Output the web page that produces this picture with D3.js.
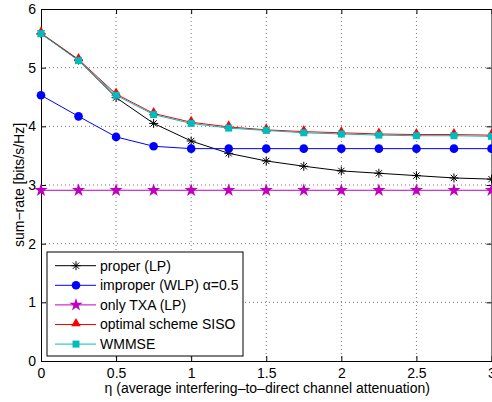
<!DOCTYPE html>
<html>
<head>
<meta charset="utf-8">
<script src="https://cdn.jsdelivr.net/npm/d3@7"></script>
<style>
  body { margin: 0; background: #fff; }
  text { font-family: "Liberation Sans", Arial, sans-serif; }
</style>
</head>
<body>
<div id="chart"></div>
<script>
// Data
const eta = [0, 0.25, 0.5, 0.75, 1, 1.25, 1.5, 1.75, 2, 2.25, 2.5, 2.75, 3];
const properLP = [5.58, 5.13, 4.49, 4.05, 3.75, 3.54, 3.41, 3.32, 3.24, 3.20, 3.16, 3.12, 3.10];
const improperWLP = [4.53, 4.17, 3.82, 3.66, 3.62, 3.62, 3.62, 3.62, 3.62, 3.62, 3.62, 3.62, 3.62];
const onlyTXA = [2.91, 2.91, 2.91, 2.91, 2.91, 2.91, 2.91, 2.91, 2.91, 2.91, 2.91, 2.91, 2.91];
const optimalSISO = [5.59, 5.14, 4.55, 4.22, 4.07, 3.99, 3.94, 3.91, 3.89, 3.87, 3.86, 3.86, 3.85];
const wmmse = [5.58, 5.12, 4.53, 4.20, 4.05, 3.97, 3.93, 3.89, 3.87, 3.85, 3.84, 3.84, 3.83];
const xTicks = [0, 0.5, 1, 1.5, 2, 2.5, 3];
const yTicks = [0, 1, 2, 3, 4, 5, 6];

const series = [
    { name: "proper (LP)", values: properLP, color: "#000000", marker: "asterisk" },
    { name: "improper (WLP) \u03b1=0.5", values: improperWLP, color: "#0000ff", marker: "circle" },
    { name: "only TXA (LP)", values: onlyTXA, color: "#c000c0", marker: "star" },
    { name: "optimal scheme SISO", values: optimalSISO, color: "#ff0000", marker: "triangle" },
    { name: "WMMSE", values: wmmse, color: "#00bcbc", marker: "square" }
];

const W = 492, H = 402;
const margin = { top: 9, left: 41 };
const width = 450.5;
const height = 352;
const fontSize = "14px";

const svg = d3.select("#chart")
    .append("svg")
    .attr("width", W)
    .attr("height", H);

const g = svg.append("g")
    .attr("transform", `translate(${margin.left}, ${margin.top})`);

const x = d3.scaleLinear().domain([0, 3]).range([0, width]);
const y = d3.scaleLinear().domain([0, 6]).range([height, 0]);

// dotted grid
g.selectAll(".gx")
    .data(xTicks.slice(1, -1))
    .enter().append("line")
    .attr("x1", d => x(d)).attr("x2", d => x(d))
    .attr("y1", 0).attr("y2", height)
    .attr("stroke", "#555").attr("stroke-width", 0.8)
    .attr("stroke-dasharray", "1,3");

g.selectAll(".gy")
    .data(yTicks.slice(1, -1))
    .enter().append("line")
    .attr("x1", 0).attr("x2", width)
    .attr("y1", d => y(d)).attr("y2", d => y(d))
    .attr("stroke", "#555").attr("stroke-width", 0.8)
    .attr("stroke-dasharray", "1,3");

// axes with inward ticks (matlab style)
g.append("g")
    .attr("transform", `translate(0, ${height})`)
    .call(d3.axisBottom(x).tickValues(xTicks).tickSizeInner(-5).tickSizeOuter(0).tickPadding(7).tickFormat(d3.format("")));
g.append("g")
    .call(d3.axisLeft(y).tickValues(yTicks).tickSizeInner(-5).tickSizeOuter(0).tickPadding(5).tickFormat(d3.format("d")));
g.append("g")
    .call(d3.axisTop(x).tickValues(xTicks).tickSizeInner(-5).tickSizeOuter(0).tickFormat(""));
g.append("g")
    .attr("transform", `translate(${width}, 0)`)
    .call(d3.axisRight(y).tickValues(yTicks).tickSizeInner(-5).tickSizeOuter(0).tickFormat(""));

g.selectAll(".domain").attr("stroke", "#000").attr("stroke-width", 1);
g.selectAll(".tick line").attr("stroke", "#000");
g.selectAll(".tick text")
    .attr("fill", "#000")
    .style("font-size", fontSize)
    .style("font-family", "'Liberation Sans', Arial, sans-serif");

// axis labels
g.append("text")
    .attr("x", width / 2 + 1)
    .attr("y", height + 32)
    .style("text-anchor", "middle")
    .style("font-size", fontSize)
    .text("\u03b7 (average interfering\u2013to\u2013direct channel attenuation)");

g.append("text")
    .attr("transform", "rotate(-90)")
    .attr("x", -height / 2)
    .attr("y", -17)
    .style("text-anchor", "middle")
    .style("font-size", fontSize)
    .text("sum\u2212rate [bits/s/Hz]");

// marker drawing
function drawMarker(sel, marker, color) {
    if (marker === "asterisk") {
        const r = 4.5, d = r * 0.7;
        sel.append("path")
            .attr("d", `M${-r},0L${r},0M0,${-r}L0,${r}M${-d},${-d}L${d},${d}M${-d},${d}L${d},${-d}`)
            .attr("stroke", color).attr("stroke-width", 1).attr("fill", "none");
    } else if (marker === "circle") {
        sel.append("circle").attr("r", 4.3).attr("fill", color);
    } else if (marker === "star") {
        sel.append("path").attr("d", d3.symbol(d3.symbolStar, 55)()).attr("fill", color);
    } else if (marker === "triangle") {
        sel.append("path").attr("d", d3.symbol(d3.symbolTriangle, 40)()).attr("fill", color)
            .attr("transform", "translate(0,-1)");
    } else if (marker === "square") {
        sel.append("rect").attr("x", -3.5).attr("y", -3.5).attr("width", 7).attr("height", 7).attr("fill", color);
    }
}

const line = d3.line()
    .x((d, i) => x(eta[i]))
    .y(d => y(d));

const plot = g.append("g");
series.forEach(s => {
    plot.append("path")
        .datum(s.values)
        .attr("d", line)
        .attr("fill", "none")
        .attr("stroke", s.color)
        .attr("stroke-width", 1);
    s.values.forEach((v, i) => {
        const m = plot.append("g").attr("transform", `translate(${x(eta[i])}, ${y(v)})`);
        drawMarker(m, s.marker, s.color);
    });
});

// legend
const lg = svg.append("g").attr("transform", "translate(47, 252)");
lg.append("rect")
    .attr("width", 196).attr("height", 104)
    .attr("fill", "#fff").attr("stroke", "#000").attr("stroke-width", 1);

const entry = lg.selectAll(".legend")
    .data(series)
    .enter().append("g")
    .attr("class", "legend")
    .attr("transform", (d, i) => `translate(0, ${13.7 + i * 19.6})`);

entry.append("line")
    .attr("x1", 8).attr("x2", 49)
    .attr("stroke", d => d.color).attr("stroke-width", 1);
entry.each(function(d) {
    drawMarker(d3.select(this).append("g").attr("transform", "translate(29, 0)"), d.marker, d.color);
});
entry.append("text")
    .attr("x", 53)
    .attr("y", 0)
    .attr("dy", "0.35em")
    .style("font-size", fontSize)
    .text(d => d.name);
</script>
</body>
</html>
